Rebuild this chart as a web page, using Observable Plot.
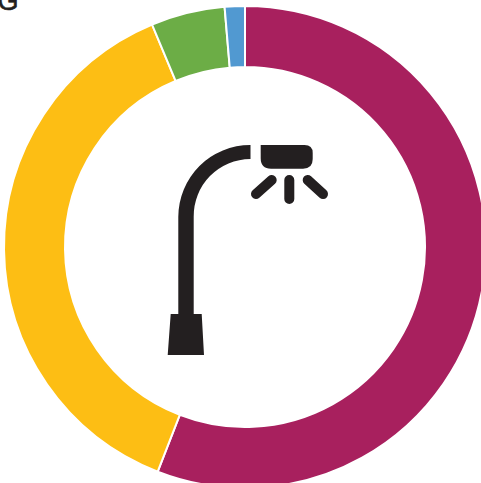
<!DOCTYPE html>
<html>
<head>
<meta charset="utf-8">
<style>html,body{margin:0;padding:0;background:#fff}svg{display:block}</style>
<script src="https://cdn.jsdelivr.net/npm/d3@7"></script>
<script src="https://cdn.jsdelivr.net/npm/@observablehq/plot@0.6"></script>
</head>
<body>
<script>
const categories = ["A", "B", "C", "D"];
const shares = [55.9, 37.8, 4.95, 1.35];
const colors = ["#A8205E", "#FDBE14", "#6CAD46", "#5199D1"];
const clippedHeading = ["G"];

const rows = categories.map((category, i) => ({category, share: shares[i]}));
const cx = 245, cy = 247, outer = 241, inner = 180;

// Stacked bars whose x scale runs in radians; the render hook bends each into a ring segment.
function ringSegments(index, scales, values) {
  const arc = d3.arc().innerRadius(inner).outerRadius(outer);
  const g = d3.create("svg:g").attr("transform", `translate(${cx},${cy})`);
  for (const i of index) {
    g.append("path")
      .attr("d", arc({startAngle: values.x1[i], endAngle: values.x2[i]}))
      .attr("fill", values.fill[i])
      .attr("stroke", "#fff")
      .attr("stroke-width", 2);
  }
  return g.node();
}

function lampIcon() {
  const g = d3.create("svg:g").attr("fill", "#231F20");
  g.append("path").attr("d",
    "M250.5 145A72 72 0 0 0 178.3 217V314H170.7L167.7 355H204L201.7 314H193.7V217A57 57 0 0 1 250.5 159Z");
  g.append("path").attr("d",
    "M260.7 145H304.5Q312.7 145 312.7 153V159Q312.7 168.7 303 168.7H271Q260.7 168.7 260.7 158Z");
  g.append("path")
    .attr("d", "M289.3 180V199M271.7 180L256 194M307.7 180L323 194")
    .attr("fill", "none")
    .attr("stroke", "#231F20")
    .attr("stroke-width", 10)
    .attr("stroke-linecap", "round");
  return g.node();
}

const chart = Plot.plot({
  width: 481,
  height: 483,
  margin: 0,
  style: {background: "#fff"},
  x: {domain: [0, 100], range: [0, 2 * Math.PI], axis: null},
  color: {domain: categories, range: colors},
  marks: [
    Plot.barX(rows, Plot.stackX({
      x: "share",
      fill: "category",
      order: null,
      render: ringSegments
    })),
    lampIcon,
    Plot.text(clippedHeading, {
      text: d => d,
      frameAnchor: "top-left",
      lineAnchor: "bottom",
      textAnchor: "start",
      dx: -3,
      dy: 9,
      fontFamily: "Liberation Sans",
      fontWeight: "normal",
      stroke: "#231F20",
      strokeWidth: 0.6,
      fontSize: 27,
      fill: "#231F20"
    })
  ]
});
document.body.appendChild(chart);
</script>
</body>
</html>
